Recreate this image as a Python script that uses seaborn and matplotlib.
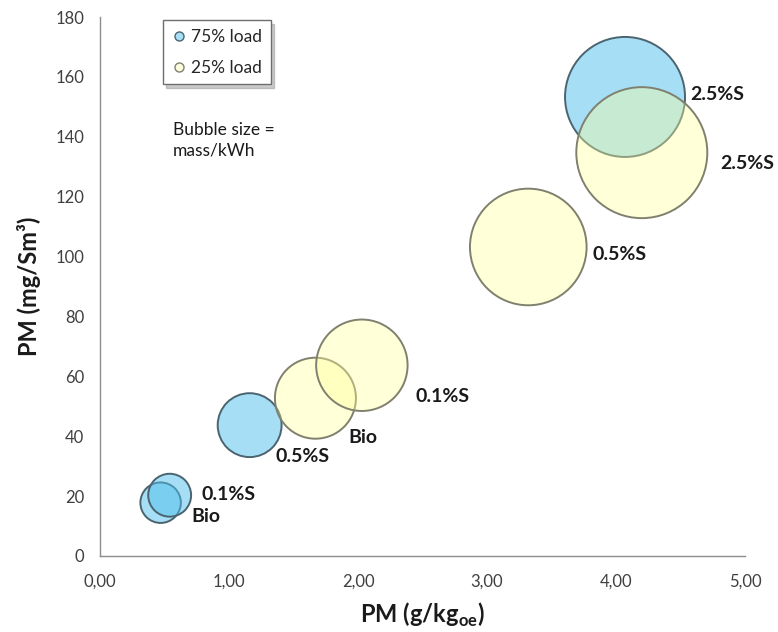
import matplotlib
matplotlib.use("Agg")
import matplotlib.pyplot as plt
from matplotlib.lines import Line2D
from matplotlib.ticker import FuncFormatter, MultipleLocator
import seaborn as sns
import pandas as pd

# ---- data ----
fuels = ["Bio", "0.1%S", "0.5%S", "2.5%S"]
load75_x = [0.47, 0.54, 1.16, 4.07]      # PM (g/kg_oe)
load75_y = [17.8, 20.3, 43.7, 153.3]     # PM (mg/Sm3)
load75_mass = [0.41, 0.46, 1.02, 3.60]   # mass/kWh (bubble size)
load25_x = [1.67, 2.03, 3.32, 4.20]
load25_y = [52.7, 63.7, 103.2, 134.7]
load25_mass = [1.64, 2.09, 3.40, 4.29]
series_names = ["75% load", "25% load"]

df75 = pd.DataFrame({"x": load75_x, "y": load75_y, "mass": load75_mass, "fuel": fuels})
df25 = pd.DataFrame({"x": load25_x, "y": load25_y, "mass": load25_mass, "fuel": fuels})

sns.set_style("white")
plt.rcParams["font.family"] = ["Lato", "DejaVu Sans"]
plt.rcParams["mathtext.fontset"] = "custom"
plt.rcParams["mathtext.bf"] = "Lato:bold"
plt.rcParams["mathtext.rm"] = "Lato"

fig = plt.figure(figsize=(7.78, 6.32), dpi=100)
ax = fig.add_axes([100 / 778, 1 - 556 / 632, 645 / 778, 539 / 632])

blue_face = (0.31, 0.75, 0.93, 0.5)
blue_edge = "#4a6470"
yel_face = (1.0, 1.0, 0.60, 0.38)
yel_edge = "#80806e"

size_range = (0, 2073.6 * 5)
size_norm = (0, 5)

sns.scatterplot(data=df75, x="x", y="y", size="mass", sizes=size_range, size_norm=size_norm,
                color="#4fbfee", edgecolor=blue_edge, linewidth=1.4, legend=False, ax=ax, zorder=2)
sns.scatterplot(data=df25, x="x", y="y", size="mass", sizes=size_range, size_norm=size_norm,
                color="#ffff99", edgecolor=yel_edge, linewidth=1.4, legend=False, ax=ax, zorder=3)
ax.collections[0].set_facecolor(blue_face)
ax.collections[0].set_edgecolor(blue_edge)
ax.collections[1].set_facecolor(yel_face)
ax.collections[1].set_edgecolor(yel_edge)

# ---- bubble labels (offsets in pixels from bubble centre) ----
off75 = [(31, -14), (32, 1), (26, -31), (65, 2)]
off25 = [(33, -39), (54, -31), (64, -8), (78, -11)]
for d, offs in ((df75, off75), (df25, off25)):
    for (_, r), o in zip(d.iterrows(), offs):
        ax.annotate(r["fuel"], (r["x"], r["y"]), xytext=o, textcoords="offset pixels",
                    ha="left", va="center", fontsize=14, fontweight="bold", color="#1a1a1a",
                    zorder=5)

# ---- axes ----
ax.set_xlim(0, 5)
ax.set_ylim(0, 180)
ax.xaxis.set_major_locator(MultipleLocator(1))
ax.yaxis.set_major_locator(MultipleLocator(20))
ax.xaxis.set_major_formatter(FuncFormatter(lambda v, p: f"{v:.2f}".replace(".", ",")))
for s in ["top", "right"]:
    ax.spines[s].set_visible(False)
for s in ["left", "bottom"]:
    ax.spines[s].set_color("#8c8c8c")
    ax.spines[s].set_linewidth(1.0)
ax.tick_params(axis="both", direction="out", length=4.5, width=1, color="#8c8c8c",
               labelsize=12, labelcolor="#404040")
ax.tick_params(axis="y", pad=7)
ax.tick_params(axis="x", pad=8)
ax.set_xlabel(r"PM (g/kg$_{\mathbf{oe}}$)", fontsize=17, fontweight="bold", color="#1a1a1a", labelpad=8)
ax.set_ylabel("PM (mg/Sm³)", fontsize=17, fontweight="bold", color="#1a1a1a", labelpad=10)

# ---- legend ----
handles = [
    Line2D([], [], marker="o", linestyle="none", markersize=6.5, markerfacecolor="#a7dff6",
           markeredgecolor=blue_edge, markeredgewidth=1.0),
    Line2D([], [], marker="o", linestyle="none", markersize=6.5, markerfacecolor="#fdfde0",
           markeredgecolor=yel_edge, markeredgewidth=1.0),
]
leg = ax.legend(handles, series_names, loc="upper left", bbox_to_anchor=(0.097, 0.994),
                borderaxespad=0, frameon=True, fancybox=False,
                shadow={"color": "0.55", "alpha": 0.45, "ox": 2.5, "oy": -2.5},
                fontsize=12.5, labelspacing=0.85, handletextpad=0.25, handlelength=0.9,
                borderpad=0.5)
leg.get_frame().set_edgecolor("#6e6e6e")
leg.get_frame().set_linewidth(1.0)

ax.text(0.113, 0.805, "Bubble size =\nmass/kWh", transform=ax.transAxes, ha="left", va="top",
        fontsize=12.5, color="#1a1a1a", linespacing=1.3)

fig.savefig("out.png", dpi=100)
